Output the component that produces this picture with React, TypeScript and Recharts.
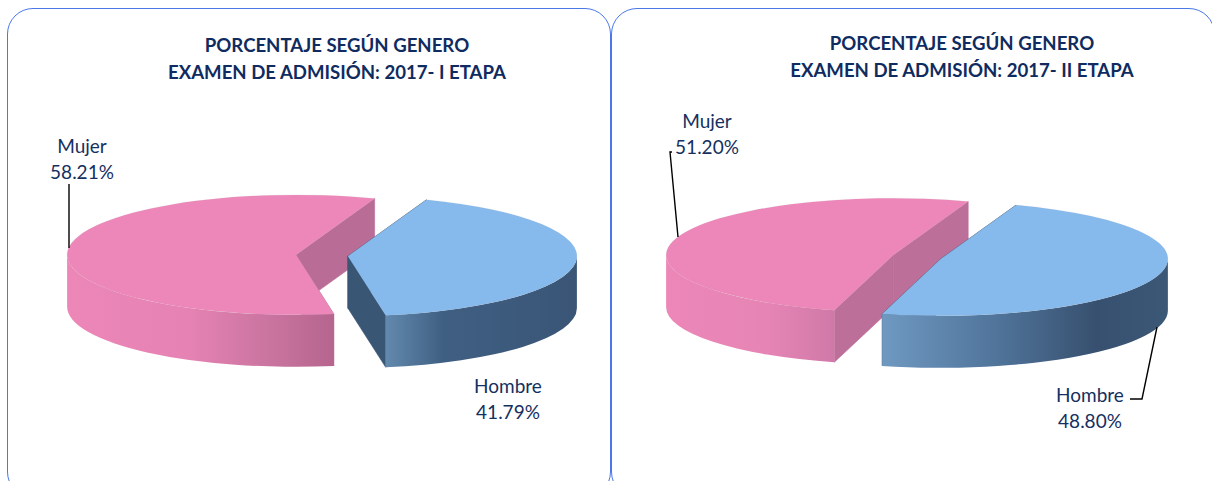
import React from 'react';
import { PieChart, Pie } from 'recharts';

const categories = ['Mujer', 'Hombre'];
const etapaI = [58.21, 41.79];
const etapaII = [51.2, 48.8];
const titleLine1 = 'PORCENTAJE SEGÚN GENERO';
const titlesI = 'EXAMEN DE ADMISIÓN: 2017- I ETAPA';
const titlesII = 'EXAMEN DE ADMISIÓN: 2017- II ETAPA';

const DEPTH = 52;
const TEXT = '#14305f';
const TITLE = '#0f2b60';
const FONT = 'Lato, "Open Sans", sans-serif';

const topFill: Record<string, string> = { Mujer: '#ee87b9', Hombre: '#86b9ec' };

type Stop = [number, string];
type Style = {
  id: string;
  wall: Record<string, Stop[]>;
  cut: Record<string, string>;
  explode: number;
  tilt: number;
  labels: Record<string, { x: number; y: number; leader: number[][] }>;
};

const styleI: Style = {
  id: 'a',
  explode: 26,
  tilt: 0.262,
  wall: {
    Mujer: [[0, '#ec87b8'], [0.45, '#e683b4'], [0.8, '#c6729d'], [1, '#b5658e']],
    Hombre: [[0, '#628aae'], [0.3, '#3f5f82'], [1, '#3a5576']],
  },
  cut: { Mujer: '#b96d96', Hombre: '#3a5675' },
  labels: {
    Mujer: { x: 82, y: 145, leader: [[69, 184], [69, 248]] },
    Hombre: { x: 508, y: 385, leader: [] },
  },
};

const styleII: Style = {
  id: 'b',
  explode: 25,
  tilt: 0.251,
  wall: {
    Mujer: [[0, '#ec87b8'], [0.6, '#e685b5'], [1, '#d079a8']],
    Hombre: [[0, '#6f99c1'], [0.4, '#50749a'], [0.75, '#37506f'], [1, '#3c5877']],
  },
  cut: { Mujer: '#bc6f98', Hombre: '#3a5675' },
  labels: {
    Mujer: { x: 707, y: 120, leader: [[672, 152], [670, 152], [678, 237]] },
    Hombre: { x: 1090, y: 394, leader: [[1130, 399], [1142, 399], [1157, 327]] },
  },
};

const rad = (a: number) => (a * Math.PI) / 180;

// draws one slice as a tilted prism from the angles the pie computed
const prismShape = (style: Style) => (props: any) => {
  const { cx, cy, outerRadius, startAngle, endAngle, name } = props;
  const mid = rad((startAngle + endAngle) / 2);
  const ox = cx + style.explode * Math.cos(mid);
  const oy = cy - style.explode * Math.sin(mid) * style.tilt;
  const rx = outerRadius;
  const ry = outerRadius * style.tilt;
  const pt = (a: number, d = 0): [number, number] => [ox + rx * Math.cos(rad(a)), oy - ry * Math.sin(rad(a)) + d];
  const hi = Math.max(startAngle, endAngle);
  const lo = Math.min(startAngle, endAngle);
  const large = hi - lo > 180 ? 1 : 0;
  const [sx, sy] = pt(hi);
  const [ex, ey] = pt(lo);

  const top = `M${ox},${oy} L${sx},${sy} A${rx},${ry} 0 ${large} 1 ${ex},${ey} Z`;
  const cuts = [hi, lo].map((a) => {
    const [x, y] = pt(a);
    return `M${ox},${oy} L${x},${y} L${x},${y + DEPTH} L${ox},${oy + DEPTH} Z`;
  });

  // front half of the rim only
  const walls: string[] = [];
  for (let k = -1; k <= 1; k++) {
    const a0 = Math.min(hi, 360 * k);
    const a1 = Math.max(lo, 360 * k - 180);
    if (a0 > a1) {
      const [x0, y0] = pt(a0);
      const [x1, y1] = pt(a1);
      walls.push(`M${x0},${y0} A${rx},${ry} 0 0 1 ${x1},${y1} L${x1},${y1 + DEPTH} A${rx},${ry} 0 0 0 ${x0},${y0 + DEPTH} Z`);
    }
  }
  const gradId = `wall-${style.id}-${name}`;

  return (
    <g>
      <defs>
        <linearGradient id={gradId} x1="0" y1="0" x2="1" y2="0">
          {style.wall[name].map(([o, c]) => (
            <stop key={o} offset={o} stopColor={c} />
          ))}
        </linearGradient>
      </defs>
      {cuts.map((d, i) => (
        <path key={i} d={d} fill={style.cut[name]} stroke={style.cut[name]} strokeWidth={0.6} />
      ))}
      {walls.map((d, i) => (
        <path key={i} d={d} fill={`url(#${gradId})`} />
      ))}
      <path d={top} fill={topFill[name]} stroke="#a9a9a9" strokeOpacity={0.15} strokeWidth={0.7} />
    </g>
  );
};

const sliceLabel = (style: Style) => (props: any) => {
  const { name, value } = props;
  const l = style.labels[name];
  return (
    <g>
      {l.leader.length > 0 && (
        <polyline points={l.leader.map((p) => p.join(',')).join(' ')} fill="none" stroke="#000" strokeWidth={1.4} />
      )}
      <text x={l.x} y={l.y} textAnchor="middle" dominantBaseline="central" fontFamily={FONT} fontSize={19} fill={TEXT}>
        {name}
      </text>
      <text x={l.x} y={l.y + 26} textAnchor="middle" dominantBaseline="central" fontFamily={FONT} fontSize={19} fill={TEXT}>
        {value.toFixed(2)}%
      </text>
    </g>
  );
};

const toRows = (values: number[]) => categories.map((name, i) => ({ name, value: values[i] }));

const Frame = ({ left, width }: { left: number; width: number }) => (
  <div
    style={{
      position: 'absolute',
      left,
      top: 8,
      width,
      height: 490,
      boxSizing: 'border-box',
      border: '1px solid #4a78e6',
      borderRadius: 26,
    }}
  />
);

const Title = ({ center, top, line2 }: { center: number; top: number; line2: string }) => (
  <div
    style={{
      position: 'absolute',
      left: center - 250,
      top,
      width: 500,
      textAlign: 'center',
      fontFamily: FONT,
      fontWeight: 700,
      fontSize: 18.6,
      lineHeight: '26.5px',
      color: TITLE,
    }}
  >
    <div>{titleLine1}</div>
    <div>{line2}</div>
  </div>
);

export default function App() {
  return (
    <div style={{ position: 'absolute', left: 0, top: 0, width: 1212, height: 481, overflow: 'hidden', background: '#fff' }}>
      <Frame left={7} width={604} />
      <Frame left={611} width={604} />
      <Title center={337} top={32} line2={titlesI} />
      <Title center={962} top={30} line2={titlesII} />
      <div style={{ position: 'absolute', left: 0, top: 0 }}>
        <PieChart width={1212} height={481} margin={{ top: 0, right: 0, bottom: 0, left: 0 }}>
          <Pie
            data={toRows(etapaI)}
            dataKey="value"
            nameKey="name"
            cx={322}
            cy={255.5}
            outerRadius={229}
            startAngle={-80.5}
            endAngle={-440.5}
            stroke="none"
            shape={prismShape(styleI)}
            label={sliceLabel(styleI)}
            labelLine={false}
            isAnimationActive={false}
          />
          <Pie
            data={toRows(etapaII)}
            dataKey="value"
            nameKey="name"
            cx={917}
            cy={257}
            outerRadius={227}
            startAngle={-105}
            endAngle={-465}
            stroke="none"
            shape={prismShape(styleII)}
            label={sliceLabel(styleII)}
            labelLine={false}
            isAnimationActive={false}
          />
        </PieChart>
      </div>
    </div>
  );
}
